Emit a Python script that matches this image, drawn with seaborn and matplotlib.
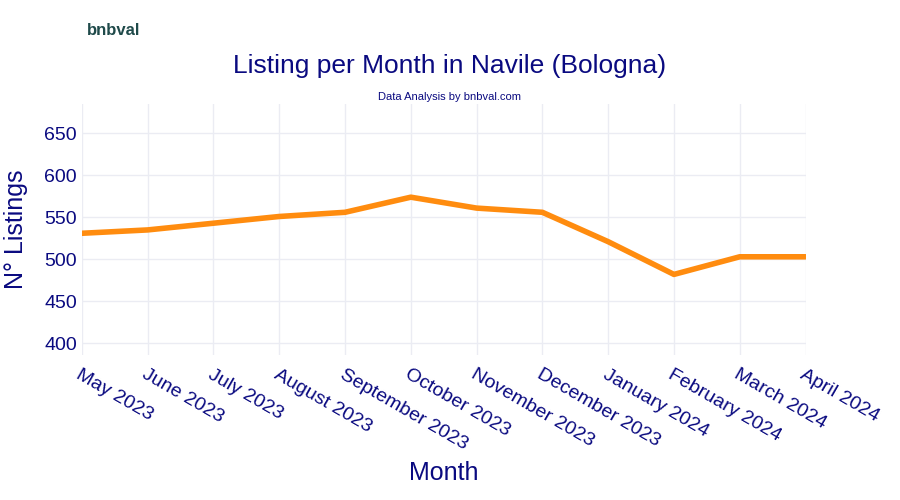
import matplotlib
matplotlib.use("Agg")
import matplotlib.pyplot as plt
import seaborn as sns
import pandas as pd

months = ["May 2023", "June 2023", "July 2023", "August 2023", "September 2023", "October 2023",
          "November 2023", "December 2023", "January 2024", "February 2024", "March 2024", "April 2024"]
listings = [531, 535, 543, 551, 556, 574, 561, 556, 521, 482, 503, 503]
yticks = [400, 450, 500, 550, 600, 650]

df = pd.DataFrame({"idx": range(len(months)), "listings": listings})

plt.rcParams["font.family"] = "Liberation Sans"
fig = plt.figure(figsize=(9, 5), dpi=100)
ax = fig.add_axes([0.091, 0.290, 0.804, 0.502])
sns.lineplot(data=df, x="idx", y="listings", ax=ax, color="#ff8c0f", linewidth=4, solid_capstyle="round")
ax.set_xlim(0, len(months) - 1)
ax.set_ylim(386, 685)
ax.set_yticks(yticks)
ax.set_xticks(range(len(months)))
ax.set_xticklabels(months, rotation=-30, ha="left", rotation_mode="anchor", fontsize=14, color="#0a0a80")
ax.tick_params(axis="y", labelsize=14, labelcolor="#0a0a80", length=0)
ax.tick_params(axis="x", length=0, pad=8)
ax.grid(True, color="#ebecf3", linewidth=1)
for s in ax.spines.values():
    s.set_visible(False)
ax.set_xlabel("Month", fontsize=18, color="#0a0a80", labelpad=6)
ax.set_ylabel("N° Listings", fontsize=18, color="#0a0a80", labelpad=12)
fig.text(0.5, 0.855, "Listing per Month in Navile (Bologna)", ha="center", fontsize=19, color="#0a0a80")
fig.text(0.5, 0.8, "Data Analysis by bnbval.com", ha="center", fontsize=8, color="#0a0a80")
fig.text(0.097, 0.93, "bnbval", fontsize=12, fontweight="bold", color="#1f4a4a")
fig.savefig("out.png")
